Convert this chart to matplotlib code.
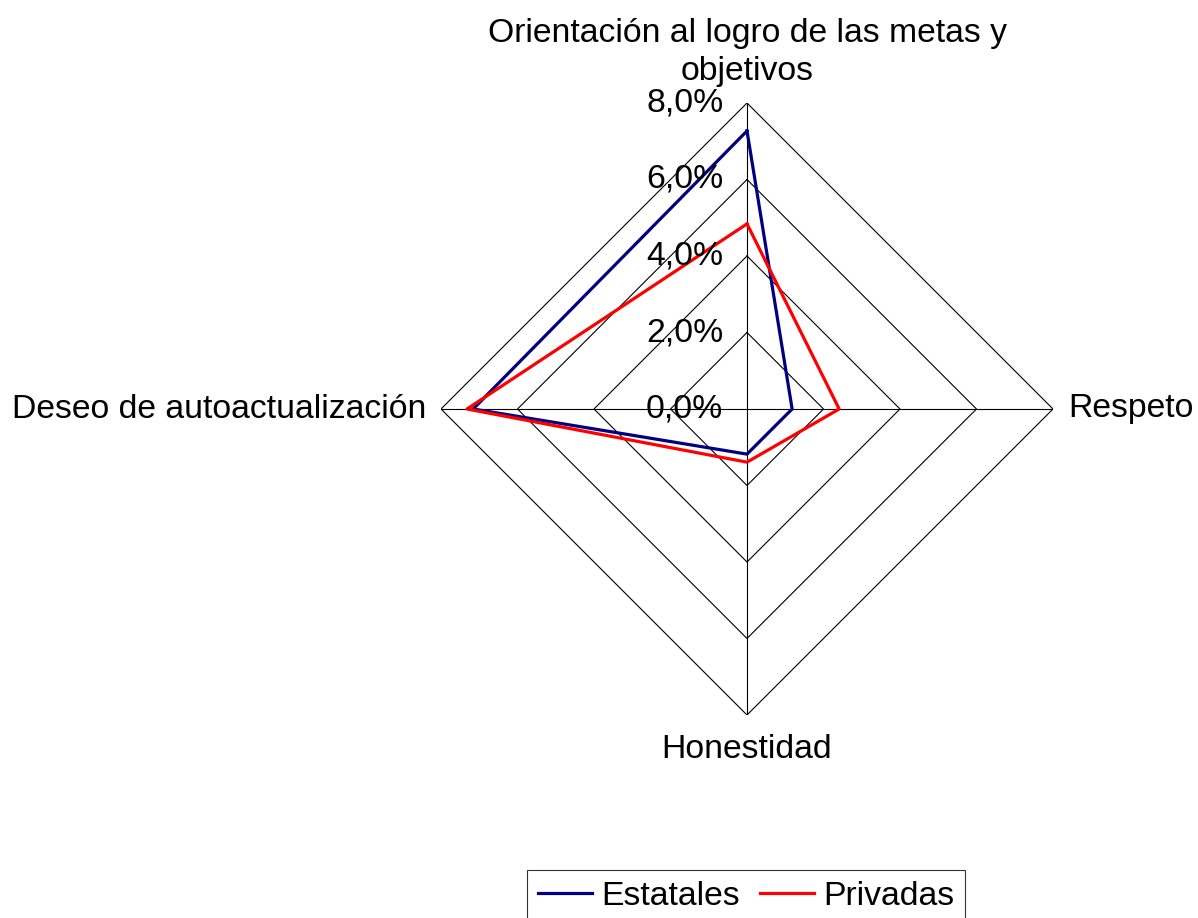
import numpy as np
import matplotlib.pyplot as plt

plt.rcParams['font.family'] = ['Liberation Sans', 'DejaVu Sans']

categories = ['Orientación al logro de las metas y\nobjetivos', 'Respeto',
              'Honestidad', 'Deseo de autoactualización']
estatales = [7.27, 1.18, 1.18, 7.16]
privadas = [4.84, 2.41, 1.39, 7.32]
ticks = [0, 2, 4, 6, 8]
tick_labels = ['0,0%', '2,0%', '4,0%', '6,0%', '8,0%']
rmax = 8.0
fs = 24.3

# clockwise from top
angles = np.pi / 2 - np.arange(len(categories)) * np.pi / 2


def to_xy(values):
    v = np.array(list(values) + [values[0]])
    a = np.append(angles, angles[0])
    return v * np.cos(a), v * np.sin(a)


fig = plt.figure(figsize=(11.98, 9.18), dpi=100)
ax = fig.add_axes([441 / 1198, 1 - 715 / 918, 612 / 1198, 612 / 918])
ax.set_xlim(-rmax, rmax)
ax.set_ylim(-rmax, rmax)
ax.axis('off')

# diamond grid
for t in ticks[1:]:
    gx, gy = to_xy([t] * len(categories))
    ax.plot(gx, gy, color='black', lw=0.8, zorder=1)
for a in angles:
    ax.plot([0, rmax * np.cos(a)], [0, rmax * np.sin(a)], color='black', lw=0.8, zorder=1)

# radial tick labels
for t, lab in zip(ticks, tick_labels):
    ax.text(-0.62, t, lab, ha='right', va='center', fontsize=fs, zorder=3)

ex, ey = to_xy(estatales)
px, py = to_xy(privadas)
ax.plot(ex, ey, color='#000080', lw=2.3, label='Estatales', zorder=2)
ax.plot(px, py, color='#FF0000', lw=2.3, label='Privadas', zorder=2)

# category labels
ax.text(0, rmax + 0.6, categories[0], ha='center', va='baseline', fontsize=fs,
        linespacing=1.3, multialignment='center')
ax.text(rmax + 0.4, 0, categories[1], ha='left', va='center', fontsize=fs)
ax.text(0, -rmax - 0.5, categories[2], ha='center', va='top', fontsize=fs)
ax.text(-rmax - 0.39, 0, categories[3], ha='right', va='center', fontsize=fs)

leg = fig.legend(loc='upper center', bbox_to_anchor=(746 / 1198, 1 - 870 / 918),
                 ncol=2, fontsize=fs, frameon=True, fancybox=False,
                 edgecolor='black', handlelength=1.6, handletextpad=0.27,
                 columnspacing=0.6, borderpad=0.32, borderaxespad=0)
leg.get_frame().set_linewidth(0.8)

fig.savefig('out.png', dpi=100)
